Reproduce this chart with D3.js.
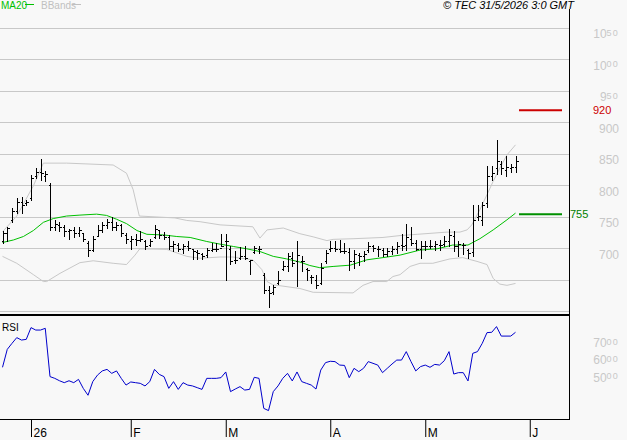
<!DOCTYPE html>
<html>
<head>
<meta charset="utf-8">
<script src="https://cdn.jsdelivr.net/npm/d3@7/dist/d3.min.js"></script>
<style>
  body { margin: 0; background: #f8f8f8; }
  svg { display: block; font-family: "Liberation Sans", Arial, sans-serif; }
</style>
</head>
<body>
<div id="chart"></div>
<script>
// Daily bars: [open, high, low, close]
const bars = [
  [712,728,710,725],[725,735,712,733],[745,765,743,760],[760,780,757,775],[775,782,757,770],
  [772,778,770,774],[780,817,778,812],[815,829,813,822],[822,842,810,820],[815,823,807,818],
  [802,804,730,735],[735,746,730,740],[738,743,728,735],[735,737,721,728],[728,731,715,730],
  [730,734,719,725],[725,734,721,730],[725,725,712,715],[710,712,689,698],[698,720,696,715],
  [720,737,720,730],[730,743,726,738],[738,748,733,742],[742,750,730,735],[735,742,730,738],
  [738,740,720,725],[722,725,710,715],[712,720,700,716],[716,724,706,714],[714,728,712,715],
  [712,714,700,705],[706,715,704,712],[718,737,717,732],[730,730,717,722],[722,726,715,718],
  [718,722,700,704],[704,712,696,708],[706,710,696,700],[700,708,693,705],[705,712,698,702],
  [700,700,684,697],[695,698,684,693],[692,694,684,689],[690,701,687,698],[698,710,696,700],
  [700,709,696,700],[702,724,704,705],[712,724,650,712],[700,704,676,680],[682,696,677,683],
  [685,703,684,688],[688,705,684,685],[680,683,660,682],[695,705,693,702],[700,704,693,700],
  [658,661,630,635],[635,641,608,630],[632,643,629,640],[645,664,644,650],[668,680,666,672],
  [672,693,664,688],[686,695,672,678],[680,712,641,690],[680,688,664,680],[668,669,651,666],
  [655,659,646,655],[650,658,638,642],[645,677,644,670],[680,698,677,693],[700,712,697,702],
  [702,712,696,700],[700,714,695,696],[697,709,693,696],[695,701,667,680],[680,698,669,692],
  [690,693,675,688],[688,697,681,692],[698,711,695,705],[705,706,697,702],[700,704,688,700],
  [698,701,688,692],[692,701,688,696],[696,705,692,700],[700,711,693,705],[706,723,698,705],
  [706,739,698,718],[716,735,706,710],[710,714,698,700],[700,712,685,704],[704,712,698,705],
  [705,714,701,704],[704,713,698,707],[706,714,698,706],[708,720,704,712],[712,732,705,722],
  [720,728,696,705],[705,712,688,707],[706,709,691,706],[698,700,686,694],[695,770,689,745],
  [750,769,746,752],[745,775,737,770],[772,831,767,815],[815,831,810,820],[828,872,819,840],
  [835,839,818,828],[825,848,815,830],[828,834,822,830],[830,848,822,840]
];

// Indicators: [bar index, value]
const ma20 = [
  [0,710],[2.3,714],[4.4,719.5],[6.5,729],[8.6,742],[10.7,748],[13.5,752],[16.3,753.5],
  [19.8,755],[21.9,753],[24,747],[26.1,740],[28.3,729],[30.4,723],[33.9,722],[36.7,719.5],
  [39.5,718],[43,711.6],[45.8,707.4],[48.6,703.7],[51.4,700],[54.2,695.7],[57,688],[59.8,684],
  [62.6,679],[64.7,673.5],[66.8,670],[69.6,672],[73.2,674],[76.7,682.5],[80.1,686],[83.7,690],
  [87.9,698],[91.5,700],[94.8,706],[98,706],[100.5,716],[103.3,730],[106.2,746],[108,756.6]
];
const bbUpper = [
  [0,727],[3,752],[6.5,800],[8.6,836],[13.5,836],[23.3,833],[26.1,820],[27.5,794],[28.8,752],
  [36.3,749],[38.8,745],[41.6,743],[45.8,738],[52.7,735],[54.2,717],[55.7,730],[59.1,733],
  [62.6,724],[65.4,719],[68.3,713],[69.6,715],[73.8,716],[80.1,718],[83.7,721],[87.3,723],
  [93.6,726.5],[96.3,726.5],[97.8,730],[98.8,738],[100.5,762],[102,786],[103.3,807],
  [104.7,828],[106.2,849],[108,865]
];
const bbLower = [
  [0,688],[3,677],[6.5,659],[8.6,648],[9.3,648],[12.1,661],[16.3,678],[19.1,681],[23.3,677],
  [26.1,675],[27.9,690],[28.9,700],[34.6,699],[38.8,688],[41.6,685],[45.8,687],[48.5,687],
  [52.7,682.5],[54.6,667],[55.7,648],[56.9,643],[62.6,637],[65.4,631],[73.8,630],[75.9,642],
  [78,648],[80.9,648],[82.2,656],[83.7,659],[85.8,672],[87.9,677],[90.6,677],[94.2,684],
  [96.9,686],[99.9,680],[102,675],[103.3,653],[104.7,644],[106.2,642],[108,645]
];

// RSI, one value per bar
const rsi = [
  53.3,63.7,67.2,70.5,69.1,69.5,76.3,74.9,74.9,75.9,
  47.9,46.9,45.5,44.4,45.5,44.4,46.3,41.1,37.1,45.0,
  48.8,51.2,52.1,49.8,51.2,46.9,43.0,44.8,44.4,44.0,
  42.5,45.0,52.1,49.2,47.9,41.1,45.0,40.5,44.4,43.0,
  42.5,41.5,40.5,46.9,46.9,46.9,47.3,50.6,39.2,40.7,
  42.1,40.1,40.5,47.5,46.9,29.5,28.2,39.2,42.5,46.9,
  49.8,45.4,50.6,45.0,44.0,43.0,40.7,51.7,56.0,56.8,
  56.6,54.6,54.4,47.3,52.7,50.8,52.7,56.6,55.6,54.6,
  50.2,52.7,55.2,57.5,57.5,62.4,56.6,51.2,53.7,54.6,
  53.3,55.0,54.6,57.1,62.4,49.4,50.2,50.2,45.4,61.4,
  62.4,67.2,73.4,73.6,76.9,71.4,71.4,71.4,73.6
];

const priceTicks = [700, 750, 800, 850, 900, 950, 1000, 1050];
const gridValues = [600, 650, 700, 750, 800, 850, 900, 950, 1000, 1050];
const rsiTicks = [50, 60, 70];
const monthLabels = ["26", "F", "M", "A", "M", "J"];
const monthIndex = [6, 27, 47, 69, 89, 111];
const targetHigh = 920;
const maLast = 755;

const width = 627;
const height = 440;
const plotRight = 569;

const svg = d3.select("#chart")
  .append("svg")
  .attr("width", width)
  .attr("height", height);

svg.append("rect").attr("width", width).attr("height", height).attr("fill", "#f8f8f8");

const x = d3.scaleLinear().domain([0, 108]).range([2.5, 2.5 + 108 * 4.75]);
const y = d3.scaleLinear().domain([650, 1050]).range([280.3, 28.3]);
const yRsi = d3.scaleLinear().domain([50, 70]).range([373, 338.5]);

const px = v => Math.round(v) + 0.5;

// grid
svg.append("g")
  .selectAll("line")
  .data(gridValues)
  .join("line")
  .attr("x1", 0).attr("x2", plotRight)
  .attr("y1", d => px(y(d) - 0.5)).attr("y2", d => px(y(d) - 0.5))
  .attr("stroke", "#c8c8c8")
  .attr("shape-rendering", "crispEdges");

// small raised digits, as the source draws them
function smallTail(t, s) {
  t.append("tspan").attr("dy", -2.5)
    .style("font-size", "9px")
    .style("letter-spacing", "1.2px")
    .text(s);
}

// price labels on the right
const yAxis = svg.append("g")
  .attr("transform", "translate(619,0)")
  .call(d3.axisRight(y).tickValues(priceTicks).tickSize(0).tickFormat(""));
yAxis.select(".domain").remove();
yAxis.selectAll(".tick text").remove();
yAxis.selectAll(".tick").each(function (d) {
  const s = String(d);
  const t = d3.select(this).append("text")
    .attr("x", 0).attr("y", 9.5)
    .attr("text-anchor", "end")
    .attr("fill", "#c8c8c8")
    .style("font-size", "12px");
  if (d >= 950) {
    t.append("tspan").text(s.slice(0, s.length - 2));
    smallTail(t, s.slice(-2));
  } else {
    t.text(s);
  }
});

svg.append("defs").append("clipPath").attr("id", "plot")
  .append("rect").attr("x", 0).attr("y", 9).attr("width", plotRight).attr("height", 304);

const plot = svg.append("g").attr("clip-path", "url(#plot)");

const bandLine = d3.line().x(d => x(d[0])).y(d => y(d[1]));

plot.append("path").datum(bbUpper).attr("d", bandLine)
  .attr("fill", "none").attr("stroke", "#c8c8c8").attr("stroke-width", 1);
plot.append("path").datum(bbLower).attr("d", bandLine)
  .attr("fill", "none").attr("stroke", "#c8c8c8").attr("stroke-width", 1);
plot.append("path").datum(ma20).attr("d", bandLine)
  .attr("fill", "none").attr("stroke", "#00c000").attr("stroke-width", 1);

// OHLC bars
const barG = plot.append("g")
  .attr("stroke", "#000")
  .attr("shape-rendering", "crispEdges");
bars.forEach((b, i) => {
  const cx = px(x(i));
  barG.append("line").attr("x1", cx).attr("x2", cx)
    .attr("y1", Math.round(y(b[1]))).attr("y2", Math.round(y(b[2])) + 1);
  barG.append("line").attr("x1", cx - 2).attr("x2", cx)
    .attr("y1", px(y(b[0]))).attr("y2", px(y(b[0])));
  barG.append("line").attr("x1", cx).attr("x2", cx + 2)
    .attr("y1", px(y(b[3]))).attr("y2", px(y(b[3])));
});

// markers on the right
svg.append("line")
  .attr("x1", 519).attr("x2", 562)
  .attr("y1", y(targetHigh)).attr("y2", y(targetHigh))
  .attr("stroke", "#cc0000").attr("stroke-width", 2);
svg.append("text")
  .attr("x", 593).attr("y", y(targetHigh) + 4)
  .attr("fill", "#cc0000").style("font-size", "11px")
  .text(targetHigh);

svg.append("line")
  .attr("x1", 519).attr("x2", 562)
  .attr("y1", y(maLast)).attr("y2", y(maLast))
  .attr("stroke", "#009000").attr("stroke-width", 2);
svg.append("text")
  .attr("x", 570).attr("y", y(maLast) + 4)
  .attr("fill", "#008000").style("font-size", "11px")
  .text(maLast);

// frame
svg.append("line").attr("x1", px(plotRight)).attr("x2", px(plotRight)).attr("y1", 9).attr("y2", 420)
  .attr("stroke", "#000").attr("shape-rendering", "crispEdges");
svg.append("line").attr("x1", 0).attr("x2", plotRight).attr("y1", 315).attr("y2", 315)
  .attr("stroke", "#000").attr("stroke-width", 2).attr("shape-rendering", "crispEdges");
svg.append("line").attr("x1", 0).attr("x2", plotRight + 1).attr("y1", 419.5).attr("y2", 419.5)
  .attr("stroke", "#000").attr("shape-rendering", "crispEdges");

// RSI panel
svg.append("path").datum(rsi)
  .attr("d", d3.line().x((d, i) => x(i)).y(d => yRsi(d)))
  .attr("fill", "none").attr("stroke", "#0000cc").attr("stroke-width", 1);

svg.append("text").attr("x", 2).attr("y", 331)
  .style("font-size", "10px").attr("fill", "#000").text("RSI");

const rsiAxis = svg.append("g")
  .attr("transform", "translate(619,0)")
  .call(d3.axisRight(yRsi).tickValues(rsiTicks).tickSize(0).tickFormat(""));
rsiAxis.select(".domain").remove();
rsiAxis.selectAll(".tick text").remove();
rsiAxis.selectAll(".tick").append("text")
  .attr("x", 0).attr("y", 8)
  .attr("text-anchor", "end")
  .attr("fill", "#c8c8c8")
  .style("font-size", "12px")
  .each(function (d) {
    const t = d3.select(this);
    t.append("tspan").text(d);
    smallTail(t, "00");
  });

// month axis
const xAxis = svg.append("g")
  .attr("transform", "translate(0,419)")
  .call(d3.axisBottom(x).tickValues(monthIndex).tickSize(18)
    .tickFormat((d, i) => monthLabels[i]));
xAxis.select(".domain").remove();
xAxis.selectAll(".tick line").attr("stroke", "#000");
xAxis.selectAll(".tick text")
  .attr("x", 2).attr("y", 18).attr("dy", 0)
  .attr("text-anchor", "start")
  .attr("fill", "#000")
  .style("font-size", "12px");

// legend and header
svg.append("text").attr("x", 1).attr("y", 8.5)
  .attr("fill", "#00c000").style("font-size", "10px").text("MA20");
svg.append("line").attr("x1", 25).attr("x2", 34).attr("y1", 4.5).attr("y2", 4.5)
  .attr("stroke", "#00c000");
svg.append("text").attr("x", 41).attr("y", 8.5)
  .attr("fill", "#c0c0c0").style("font-size", "10px").text("BBands");
svg.append("line").attr("x1", 72).attr("x2", 81).attr("y1", 4.5).attr("y2", 4.5)
  .attr("stroke", "#c0c0c0");

svg.append("text").attr("x", 574).attr("y", 8.5)
  .attr("text-anchor", "end")
  .style("font-size", "11px").style("font-style", "italic")
  .attr("fill", "#000")
  .text("© TEC 31/5/2026 3:0 GMT");
</script>
</body>
</html>
